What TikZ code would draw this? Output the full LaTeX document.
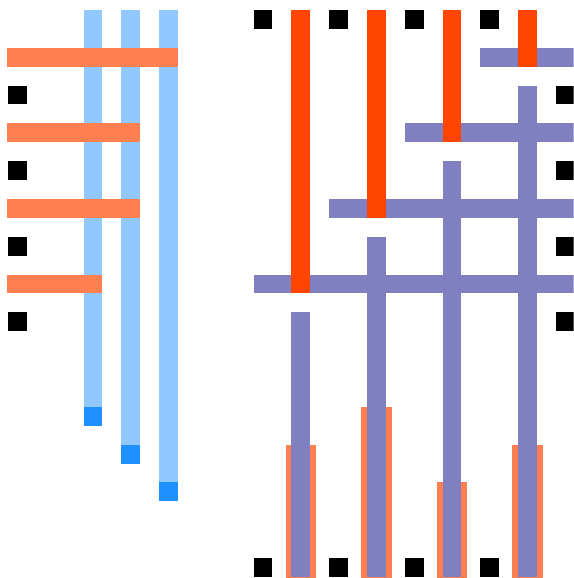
\documentclass[tikz,border=0pt]{standalone}
\usepackage{xcolor}
\usepackage{tikz}

\definecolor{paleblue}{RGB}{144,200,255}
\definecolor{deepblue}{RGB}{30,144,255}
\definecolor{coralc}{RGB}{255,127,80}
\definecolor{redc}{RGB}{255,69,0}
\definecolor{purplec}{RGB}{128,128,192}

\begin{document}
\begin{tikzpicture}[x=1cm, y=-1cm,
  pin/.style={fill=black},
  wire/.style={fill=paleblue},
  wireend/.style={fill=deepblue},
  hbar/.style={fill=coralc},
  rbar/.style={fill=redc},
  pbar/.style={fill=purplec},
  pad/.style={fill=coralc}]
\clip (-0.21,-0.265) rectangle (14.97,15.03);
% left block
\foreach \x/\e in {2/10.5,3/11.5,4/12.5} {
  \fill[wire] (\x,0) rectangle (\x+0.5,\e);
  \fill[wireend] (\x,\e) rectangle (\x+0.5,\e+0.5);
}
\foreach \y/\e in {1/4.5,3/3.5,5/3.5,7/2.5}
  \fill[hbar] (-0.03,\y) rectangle (\e,\y+0.5);
\foreach \y in {2,4,6,8}
  \fill[pin] (0,\y) rectangle +(0.5,0.5);
% right block
\foreach \k/\s in {0/11.5,1/10.5,2/12.5,3/11.5} {
  \fill[pad] (7.35+2*\k,\s) rectangle (8.15+2*\k,15.1);
  \fill[pbar] (7.5+2*\k,8-2*\k) rectangle (8+2*\k,15);
}
\foreach \k in {0,...,3} {
  \fill[pbar] (6.5+2*\k,7-2*\k) rectangle (15,7.5-2*\k);
  \fill[rbar] (7.5+2*\k,0) rectangle (8+2*\k,7.5-2*\k);
}
\foreach \k in {0,...,3} {
  \fill[pin] (6.5+2*\k,0) rectangle +(0.5,0.5);
  \fill[pin] (6.5+2*\k,14.5) rectangle +(0.5,0.5);
  \fill[pin] (14.5,2+2*\k) rectangle +(0.5,0.5);
}
\end{tikzpicture}
\end{document}
